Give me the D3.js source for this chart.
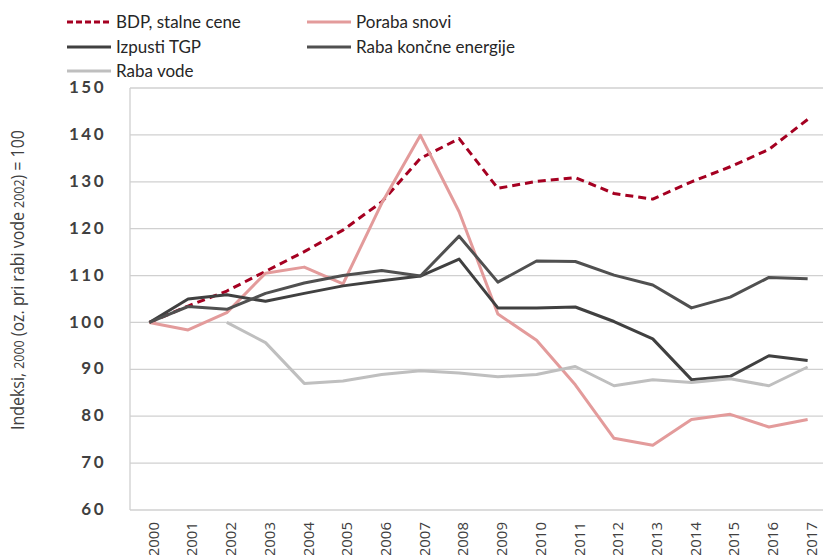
<!DOCTYPE html>
<html>
<head>
<meta charset="utf-8">
<script src="https://cdn.jsdelivr.net/npm/d3@7"></script>
<style>
  body { margin: 0; background: #fff; }
  svg { display: block; }
</style>
</head>
<body>
<div id="chart"></div>
<script>
const years = ["2000","2001","2002","2003","2004","2005","2006","2007","2008","2009","2010","2011","2012","2013","2014","2015","2016","2017"];
const yTicks = [60, 70, 80, 90, 100, 110, 120, 130, 140, 150];

const bdp = [100, 103.5, 106.7, 110.9, 115.1, 119.7, 125.7, 135.0, 139.2, 128.6, 130.1, 130.9, 127.5, 126.3, 130.0, 133.2, 136.9, 143.3];
const porabaSnovi = [100, 98.4, 102.1, 110.5, 111.8, 108.2, 125.4, 139.9, 123.6, 101.8, 96.2, 86.7, 75.3, 73.8, 79.3, 80.4, 77.7, 79.3];
const izpustiTGP = [100, 105.0, 105.9, 104.5, 106.2, 107.8, 108.9, 109.9, 113.5, 103.1, 103.1, 103.3, 100.2, 96.5, 87.8, 88.5, 92.9, 91.9];
const rabaEnergije = [100, 103.4, 102.8, 106.2, 108.4, 110.0, 111.1, 109.9, 118.4, 108.6, 113.1, 113.0, 110.1, 108.0, 103.1, 105.4, 109.6, 109.3];
const rabaVode = [null, null, 100, 95.7, 87.0, 87.5, 88.9, 89.7, 89.2, 88.4, 88.9, 90.6, 86.5, 87.8, 87.2, 88.0, 86.5, 90.5];

const series = [
  {name: "BDP, stalne cene", values: bdp, color: "#a50021", dash: "8,5"},
  {name: "Poraba snovi", values: porabaSnovi, color: "#e39b9b", dash: null},
  {name: "Izpusti TGP", values: izpustiTGP, color: "#404040", dash: null},
  {name: "Raba končne energije", values: rabaEnergije, color: "#505050", dash: null},
  {name: "Raba vode", values: rabaVode, color: "#bfbfbf", dash: null}
];

const W = 823, H = 555;
const margin = {top: 88, right: -4, bottom: 45, left: 130};

const svg = d3.select("#chart").append("svg")
  .attr("width", W).attr("height", H);

const x = d3.scaleBand()
  .domain(years)
  .range([margin.left, W - margin.right]);

const y = d3.scaleLinear()
  .domain([60, 150])
  .range([H - margin.bottom, margin.top]);

// gridlines
svg.append("g")
  .selectAll("line")
  .data(yTicks)
  .join("line")
  .attr("x1", margin.left).attr("x2", W)
  .attr("y1", d => y(d)).attr("y2", d => y(d))
  .attr("stroke", "#d0d0d0").attr("stroke-width", 1.3);

svg.append("line")
  .attr("x1", margin.left).attr("x2", margin.left)
  .attr("y1", y(150)).attr("y2", y(60))
  .attr("stroke", "#d0d0d0").attr("stroke-width", 1.3);

// y tick labels
svg.append("g")
  .selectAll("text")
  .data(yTicks)
  .join("text")
  .attr("x", 106)
  .attr("y", d => y(d))
  .attr("dy", "0.3em")
  .attr("text-anchor", "end")
  .style("font-family", "Lato, sans-serif")
  .style("font-size", "17px")
  .style("font-weight", "bold")
  .style("letter-spacing", "2.5px")
  .style("fill", "#404040")
  .text(d => d);

// x tick labels
svg.append("g")
  .selectAll("text")
  .data(years)
  .join("text")
  .attr("transform", d => `translate(${x(d) + x.bandwidth() / 2 + 4},${H - 33}) rotate(-90)`)
  .attr("dy", "0.35em")
  .attr("text-anchor", "end")
  .style("font-family", "'Open Sans', sans-serif")
  .style("font-size", "15px")
  .style("fill", "#404040")
  .text(d => d);

// y axis title
const title = svg.append("text")
  .attr("transform", "translate(18,280) rotate(-90)")
  .attr("dy", "0.35em")
  .attr("text-anchor", "middle")
  .attr("textLength", 300)
  .attr("lengthAdjust", "spacingAndGlyphs")
  .style("font-family", "'Open Sans', sans-serif")
  .style("font-size", "18px")
  .style("fill", "#404040");
title.append("tspan").text("Indeksi, ");
title.append("tspan").style("font-size", "14px").text("2000");
title.append("tspan").text(" (oz. pri rabi vode ");
title.append("tspan").style("font-size", "14px").text("2002");
title.append("tspan").text(") = 100");

// lines
const line = d3.line()
  .defined(d => d != null)
  .x((d, i) => x(years[i]) + x.bandwidth() / 2)
  .y(d => y(d));

svg.append("g")
  .selectAll("path")
  .data(series)
  .join("path")
  .attr("d", d => line(d.values))
  .attr("fill", "none")
  .attr("stroke", d => d.color)
  .attr("stroke-width", 3)
  .attr("stroke-dasharray", d => d.dash)
  .attr("stroke-linejoin", "round");

// legend
const legendPos = [[67, 22], [307, 22], [67, 47], [307, 47], [67, 71]];
const lg = svg.append("g")
  .selectAll("g")
  .data(series)
  .join("g")
  .attr("transform", (d, i) => `translate(${legendPos[i][0]},${legendPos[i][1]})`);

lg.append("line")
  .attr("x1", 0).attr("x2", 44)
  .attr("stroke", d => d.color)
  .attr("stroke-width", 3)
  .attr("stroke-dasharray", d => d.dash ? "6,3" : null);

lg.append("text")
  .attr("x", 49)
  .attr("dy", "0.35em")
  .style("font-family", "Lato, 'Open Sans', sans-serif")
  .style("font-size", "17px")
  .style("fill", "#262626")
  .text(d => d.name);
</script>
</body>
</html>
